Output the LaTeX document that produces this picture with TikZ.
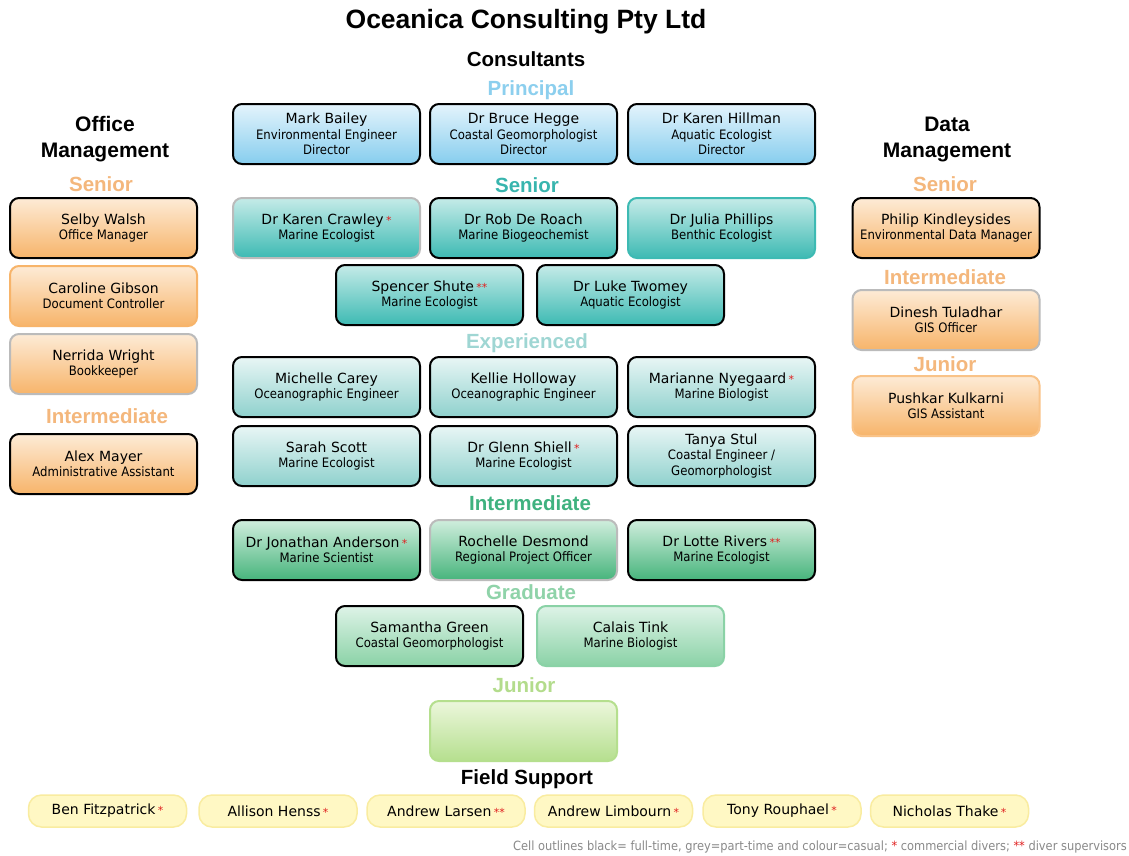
\documentclass[tikz,border=0pt]{standalone}
\usepackage{fontspec}
\setmainfont{DejaVu Sans}
\newfontfamily\condf{DejaVu Sans Condensed}
\newfontfamily\headf{Liberation Sans}
\definecolor{starred}{HTML}{E02020}
\definecolor{greyline}{HTML}{BBBBBB}
\definecolor{hPrin}{HTML}{8CCFEE}
\definecolor{hSen}{HTML}{38B5AE}
\definecolor{hExp}{HTML}{9FD6D3}
\definecolor{hInt}{HTML}{3FB27F}
\definecolor{hGrad}{HTML}{8FD3A9}
\definecolor{hJun}{HTML}{B3DC8C}
\definecolor{hOra}{HTML}{F4B77C}
\definecolor{prinT}{HTML}{E4F4FC}\definecolor{prinB}{HTML}{86CDEE}
\definecolor{senT}{HTML}{C5EBE8}\definecolor{senB}{HTML}{3DBAB3}
\definecolor{expT}{HTML}{E8F6F5}\definecolor{expB}{HTML}{8FD1CD}
\definecolor{intT}{HTML}{D0EEDD}\definecolor{intB}{HTML}{47B47C}
\definecolor{graT}{HTML}{DEF3E7}\definecolor{graB}{HTML}{8AD2A6}
\definecolor{junT}{HTML}{ECF7DC}\definecolor{junB}{HTML}{B5DF8E}
\definecolor{oraT}{HTML}{FDEBD6}\definecolor{oraB}{HTML}{F7B46A}
\definecolor{yelF}{HTML}{FFF8C4}\definecolor{yelL}{HTML}{F9ECA0}
\definecolor{footgray}{HTML}{8A8A8A}
\newcommand\nm[1]{{\normalfont\fontsize{14}{15.5}\selectfont #1}}
\newcommand\st{\,{\color{starred}\fontsize{11}{11}\selectfont *}}
\newcommand\dst{\,{\color{starred}\fontsize{11}{11}\selectfont **}}
\tikzset{
  pbox/.style={rectangle, rounded corners=9pt, minimum width=187pt, minimum height=60pt,
    align=center, inner sep=2pt, line width=2pt,
    font=\condf\fontsize{13}{15.5}\selectfont},
  ft/.style={draw=black},
  ptm/.style={draw=greyline},
  sPrin/.style={top color=prinT, bottom color=prinB},
  sSen/.style={top color=senT, bottom color=senB},
  sExp/.style={top color=expT, bottom color=expB},
  sInt/.style={top color=intT, bottom color=intB},
  sGra/.style={top color=graT, bottom color=graB},
  sJun/.style={top color=junT, bottom color=junB},
  sOra/.style={top color=oraT, bottom color=oraB},
  hd/.style={font=\headf\bfseries\fontsize{20.5}{22}\selectfont, inner sep=0pt, align=center},
  pill/.style={rectangle, rounded corners=13pt, minimum width=158pt, minimum height=32pt,
    fill=yelF, draw=yelL, line width=1.5pt, font=\fontsize{14}{15}\selectfont},
}
\begin{document}
\begin{tikzpicture}[x=1pt,y=-1pt]
\useasboundingbox[fill=white] (0,0) rectangle (1129,855);
% headings
\node[hd, font=\headf\bfseries\fontsize{26.5}{28}\selectfont] (title) at (526,22) {Oceanica Consulting Pty Ltd};
\node[hd] (cons) at (526,59) {Consultants};
\node[hd, text=hPrin] (hprin) at (531,90) {Principal};
\node[hd, text=hSen] (hsen) at (527,185) {Senior};
\node[hd, text=hExp] (hexp) at (527,343) {Experienced};
\node[hd, text=hInt] (hint) at (530,503) {Intermediate};
\node[hd, text=hGrad] (hgra) at (531,592) {Graduate};
\node[hd, text=hJun] (hjun) at (524,685) {Junior};
\node[hd] (field) at (527,779) {Field Support};
\node[hd, font=\headf\bfseries\fontsize{21}{26}\selectfont] (office) at (105,139) {Office\\Management};
\node[hd, text=hOra] (osen) at (101,184) {Senior};
\node[hd, text=hOra] (oint) at (107,416) {Intermediate};
\node[hd, font=\headf\bfseries\fontsize{21}{26}\selectfont] (data) at (947,139) {Data\\Management};
\node[hd, text=hOra] (dsen) at (945,184) {Senior};
\node[hd, text=hOra] (dint) at (945,277) {Intermediate};
\node[hd, text=hOra] (djun) at (945,364) {Junior};
% principal
\node[pbox, sPrin, ft] (bailey) at (326.5,134) {\nm{Mark Bailey}\\Environmental Engineer\\Director};
\node[pbox, sPrin, ft] (hegge) at (523.5,134) {\nm{Dr Bruce Hegge}\\Coastal Geomorphologist\\Director};
\node[pbox, sPrin, ft] (hillman) at (721.5,134) {\nm{Dr Karen Hillman}\\Aquatic Ecologist\\Director};
% senior
\node[pbox, sSen, ptm] (crawley) at (326.5,228) {\nm{Dr Karen Crawley\st}\\Marine Ecologist};
\node[pbox, sSen, ft] (deroach) at (523.5,228) {\nm{Dr Rob De Roach}\\Marine Biogeochemist};
\node[pbox, sSen, draw=senB] (phillips) at (721.5,228) {\nm{Dr Julia Phillips}\\Benthic Ecologist};
\node[pbox, sSen, ft] (shute) at (429.5,295) {\nm{Spencer Shute\dst}\\Marine Ecologist};
\node[pbox, sSen, ft] (twomey) at (630.5,295) {\nm{Dr Luke Twomey}\\Aquatic Ecologist};
% experienced
\node[pbox, sExp, ft] (carey) at (326.5,387) {\nm{Michelle Carey}\\Oceanographic Engineer};
\node[pbox, sExp, ft] (holloway) at (523.5,387) {\nm{Kellie Holloway}\\Oceanographic Engineer};
\node[pbox, sExp, ft] (nyegaard) at (721.5,387) {\nm{Marianne Nyegaard\st}\\Marine Biologist};
\node[pbox, sExp, ft] (scott) at (326.5,456) {\nm{Sarah Scott}\\Marine Ecologist};
\node[pbox, sExp, ft] (shiell) at (523.5,456) {\nm{Dr Glenn Shiell\st}\\Marine Ecologist};
\node[pbox, sExp, ft] (stul) at (721.5,456) {\nm{Tanya Stul}\\Coastal Engineer /\\Geomorphologist};
% intermediate
\node[pbox, sInt, ft] (anderson) at (326.5,550) {\nm{Dr Jonathan Anderson\st}\\Marine Scientist};
\node[pbox, sInt, ptm] (desmond) at (523.5,550) {\nm{Rochelle Desmond}\\Regional Project Officer};
\node[pbox, sInt, ft] (rivers) at (721.5,550) {\nm{Dr Lotte Rivers\dst}\\Marine Ecologist};
% graduate
\node[pbox, sGra, ft] (green) at (429.5,636) {\nm{Samantha Green}\\Coastal Geomorphologist};
\node[pbox, sGra, draw=graB] (tink) at (630.5,636) {\nm{Calais Tink}\\Marine Biologist};
% junior
\node[pbox, sJun, draw=junB] (junbox) at (523.5,731) {};
% office
\node[pbox, sOra, ft] (walsh) at (103.5,228) {\nm{Selby Walsh}\\Office Manager};
\node[pbox, sOra, draw=oraB] (gibson) at (103.5,296) {\nm{Caroline Gibson}\\Document Controller};
\node[pbox, sOra, ptm] (wright) at (103.5,364) {\nm{Nerrida Wright}\\Bookkeeper};
\node[pbox, sOra, ft] (mayer) at (103.5,464) {\nm{Alex Mayer}\\Administrative Assistant};
% data
\node[pbox, sOra, ft] (kindley) at (946,228) {\nm{Philip Kindleysides}\\Environmental Data Manager};
\node[pbox, sOra, ptm] (tuladhar) at (946,320) {\nm{Dinesh Tuladhar}\\GIS Officer};
\node[pbox, sOra, draw=oraB!80] (kulkarni) at (946,406) {\nm{Pushkar Kulkarni}\\GIS Assistant};
% field support
\node[pill] (fitz) at (107.5,811) {Ben Fitzpatrick\st};
\node[pill] (henss) at (278,811) {Allison Henss\st};
\node[pill] (larsen) at (446,811) {Andrew Larsen\dst};
\node[pill] (limb) at (613.5,811) {Andrew Limbourn\st};
\node[pill] (rouph) at (782,811) {Tony Rouphael\st};
\node[pill] (thake) at (949.5,811) {Nicholas Thake\st};
% footer
\node[anchor=east, inner sep=0pt, text=footgray, font=\condf\fontsize{12.7}{13}\selectfont] (foot) at (1127,847)
  {Cell outlines black= full-time, grey=part-time and colour=casual; {\color{starred}*} commercial divers; {\color{starred}**} diver supervisors};
\end{tikzpicture}
\end{document}
